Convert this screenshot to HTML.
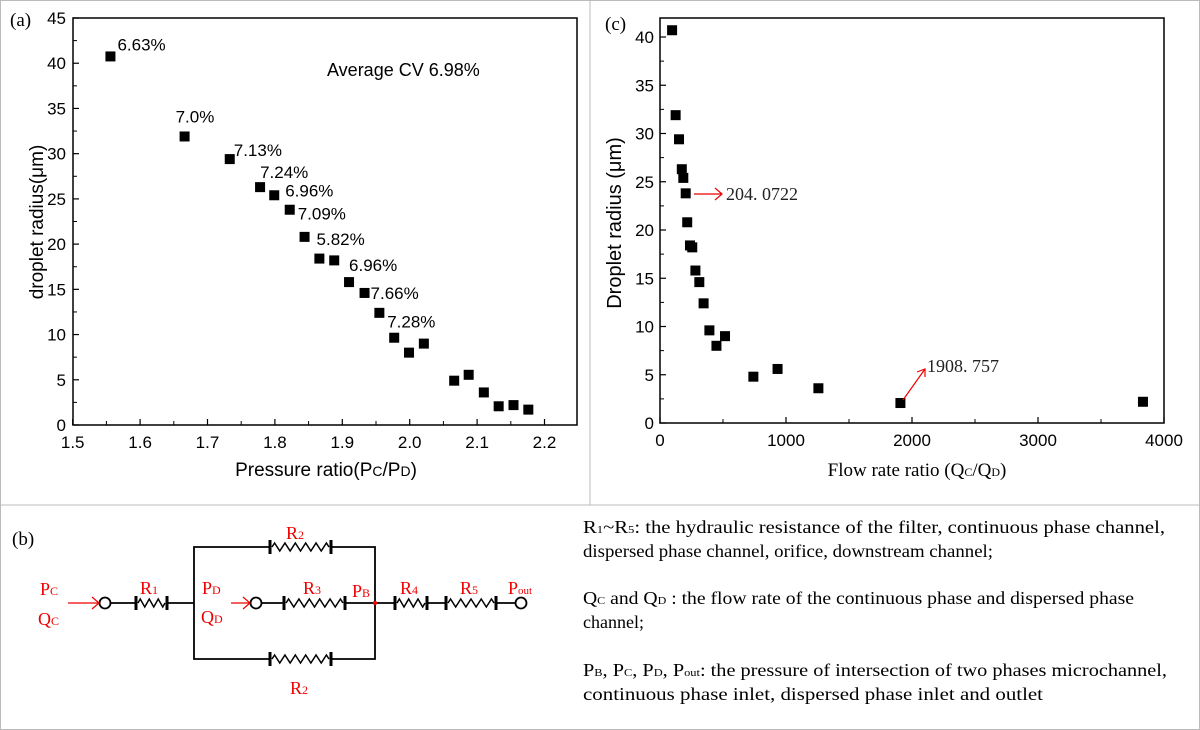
<!DOCTYPE html>
<html><head><meta charset="utf-8">
<style>
html,body{margin:0;padding:0;background:#fff;}
svg{display:block;}
.sans{font-family:"Liberation Sans",sans-serif;}
.serif{font-family:"Liberation Serif",serif;}
</style></head>
<body>
<svg id="fig" width="1200" height="730" viewBox="0 0 1200 730" xmlns="http://www.w3.org/2000/svg">
<rect x="0.5" y="0.5" width="1199" height="729" fill="#fff" stroke="#bbb"/>
<line x1="590" y1="0" x2="590" y2="505" stroke="#bbb"/>
<line x1="0" y1="505" x2="1200" y2="505" stroke="#bbb"/>

<!-- Panel a -->
<g id="pa">
<text x="10" y="26" class="serif" font-size="19">(a)</text>
<rect x="73" y="18" width="504" height="407" fill="none" stroke="#000" stroke-width="1.5"/>
<g id="pa-ticks"></g>
<g id="pa-points"></g>
<g id="pa-cv"></g>
<text x="327" y="76" class="sans" font-size="18">Average CV 6.98%</text>
<text x="326" y="476" text-anchor="middle" class="sans" font-size="19">Pressure ratio(P<tspan font-size="14">C</tspan>/P<tspan font-size="14">D</tspan>)</text>
<text transform="translate(43,222) rotate(-90)" text-anchor="middle" class="sans" font-size="19">droplet radius(μm)</text>
</g>

<!-- Panel c -->
<g id="pc">
<text x="605" y="30" class="serif" font-size="19">(c)</text>
<rect x="660" y="18" width="504" height="405" fill="none" stroke="#000" stroke-width="1.5"/>
<g id="pc-ticks"></g>
<g id="pc-points"></g>
<g>
<line x1="694" y1="194" x2="722" y2="194" stroke="#e00" stroke-width="1.2"/>
<polyline points="715,188 722,194 715,200" fill="none" stroke="#e00" stroke-width="1.2"/>
<text x="726" y="200" class="serif" font-size="18" fill="#222">204. 0722</text>
</g>
<g>
<line x1="903" y1="400" x2="925" y2="369" stroke="#e00" stroke-width="1.2"/>
<polyline points="917,372 925,369 925,377" fill="none" stroke="#e00" stroke-width="1.2"/>
<text x="927" y="372" class="serif" font-size="18" fill="#222">1908. 757</text>
</g>
<text x="917" y="476" text-anchor="middle" class="serif" font-size="19">Flow rate ratio (Q<tspan font-size="12">C</tspan>/Q<tspan font-size="12">D</tspan>)</text>
<text transform="translate(621,223) rotate(-90)" text-anchor="middle" class="sans" font-size="20">Droplet radius (μm)</text>
</g>

<!-- Panel b -->
<g id="pb" stroke="#000" stroke-width="1.8" fill="none">
<text x="12" y="545" class="serif" font-size="19" fill="#000" stroke="none">(b)</text>
<polyline points="136,603 105,603"/>
<line x1="167" y1="603" x2="194" y2="603"/>
<polyline points="270,547 194,547 194,659 270,659"/>
<polyline points="331,547 375,547 375,659 331,659"/>
<line x1="261" y1="603" x2="284" y2="603"/>
<line x1="345" y1="603" x2="395" y2="603"/>
<line x1="427" y1="603" x2="446" y2="603"/>
<line x1="496" y1="603" x2="516" y2="603"/>
<g id="resistors"></g>
<circle cx="105" cy="603" r="5.5" fill="#fff"/>
<circle cx="256" cy="603" r="5.5" fill="#fff"/>
<circle cx="521" cy="603" r="5.5" fill="#fff"/>
<circle cx="375" cy="603" r="2.2" fill="#e00" stroke="none"/>
<g stroke="#e00" stroke-width="1.2">
<line x1="68" y1="603" x2="99" y2="603"/><polyline points="92,597 99,603 92,609"/>
<line x1="231" y1="603" x2="250" y2="603"/><polyline points="243,597 250,603 243,609"/>
</g>
<g class="serif" fill="#e00" stroke="none" font-size="18">
<text x="40" y="595">P<tspan font-size="12">C</tspan></text>
<text x="38" y="625">Q<tspan font-size="12">C</tspan></text>
<text x="140" y="594">R<tspan font-size="12">1</tspan></text>
<text x="202" y="594">P<tspan font-size="12">D</tspan></text>
<text x="201" y="623">Q<tspan font-size="12">D</tspan></text>
<text x="303" y="594">R<tspan font-size="12">3</tspan></text>
<text x="352" y="597">P<tspan font-size="12">B</tspan></text>
<text x="400" y="594">R<tspan font-size="12">4</tspan></text>
<text x="460" y="594">R<tspan font-size="12">5</tspan></text>
<text x="508" y="594">P<tspan font-size="11">out</tspan></text>
<text x="286" y="539">R<tspan font-size="12">2</tspan></text>
<text x="290" y="694">R<tspan font-size="12">2</tspan></text>
</g>
</g>

<!-- Legend text -->
<g class="serif" font-size="18" fill="#000">
<text x="583" y="533" textLength="582" lengthAdjust="spacingAndGlyphs">R<tspan font-size="11">1</tspan>~R<tspan font-size="11">5</tspan>: the hydraulic resistance of the filter, continuous phase channel,</text>
<text x="583" y="557" textLength="410" lengthAdjust="spacingAndGlyphs">dispersed phase channel, orifice, downstream channel;</text>
<text x="583" y="604" textLength="551" lengthAdjust="spacingAndGlyphs">Q<tspan font-size="11">C</tspan> and Q<tspan font-size="11">D</tspan> : the flow rate of the continuous phase and dispersed phase</text>
<text x="583" y="628">channel;</text>
<text x="583" y="676" textLength="584" lengthAdjust="spacingAndGlyphs">P<tspan font-size="11">B</tspan>, P<tspan font-size="11">C</tspan>, P<tspan font-size="11">D</tspan>, P<tspan font-size="11">out</tspan>:  the pressure of intersection of two phases microchannel,</text>
<text x="583" y="700" textLength="460" lengthAdjust="spacingAndGlyphs">continuous phase inlet, dispersed phase inlet and outlet</text>
</g>
</svg>

<script>
// Panel (a) data
const pressureRatio = [1.556,1.666,1.733,1.778,1.799,1.822,1.844,1.866,1.888,1.910,1.933,1.955,1.977,1.999,2.021,2.066,2.0875,2.110,2.132,2.154,2.176];
const radiusA = [40.75,31.9,29.4,26.3,25.4,23.8,20.8,18.4,18.2,15.8,14.6,12.4,9.65,8.0,9.0,4.9,5.55,3.6,2.07,2.2,1.7];
const cvLabels = ["6.63%","7.0%","7.13%","7.24%","6.96%","7.09%","5.82%","6.96%","7.66%","7.28%"];
const cvIndex = [0,1,2,3,4,5,6,9,10,12];
const xTicksA = [1.5,1.6,1.7,1.8,1.9,2.0,2.1,2.2];
const xTickLabelsA = ["1.5","1.6","1.7","1.8","1.9","2.0","2.1","2.2"];
const yTicksA = [0,5,10,15,20,25,30,35,40,45];
// Panel (c) data
const flowRatio = [96,124,151,173,185,204,216,238,256,281,312,346,392,448,516,741,933,1257,1908,3833];
const radiusC = [40.7,31.9,29.4,26.3,25.4,23.8,20.8,18.4,18.2,15.8,14.6,12.4,9.6,8.0,9.0,4.8,5.6,3.6,2.07,2.2];
const xTicksC = [0,1000,2000,3000,4000];
const yTicksC = [0,5,10,15,20,25,30,35,40];

const NS = "http://www.w3.org/2000/svg";
function mk(tag, attrs, parent){const e=document.createElementNS(NS,tag);for(const k in attrs)e.setAttribute(k,attrs[k]);parent.appendChild(e);return e;}

const xA = v => 72.7 + (v-1.5)/0.1*67.4;
const yA = v => 425 - v*(407/45);
const xC = v => 660 + v/4000*504;
const yC = v => 423 - v*(386/40);

const ta = document.getElementById('pa-ticks');
xTicksA.forEach((t,i)=>{
  const x=xA(t);
  const l=mk('line',{x1:x,y1:425,x2:x,y2:419,stroke:'#000','stroke-width':1.2},ta);
  
  
  if(i<xTicksA.length-1){const m=mk('line',{x1:x+33.7,y1:425,x2:x+33.7,y2:421,stroke:'#000','stroke-width':1},ta);
  
  }
  const tx=mk('text',{x:x,y:448,'text-anchor':'middle','font-size':17,class:'sans'},ta);
  tx.textContent=xTickLabelsA[i];
  
  
});
yTicksA.forEach((t,i)=>{
  const y=yA(t);
  const l=mk('line',{x1:73,y1:y,x2:79,y2:y,stroke:'#000','stroke-width':1.2},ta);
  
  
  if(i<yTicksA.length-1){const m=mk('line',{x1:73,y1:yA(t+2.5),x2:77,y2:yA(t+2.5),stroke:'#000','stroke-width':1},ta);
  
  }
  const tx=mk('text',{x:66,y:y+6,'text-anchor':'end','font-size':17,class:'sans'},ta);
  tx.textContent=String(t);
  
  
});
const pa = document.getElementById('pa-points');
pressureRatio.forEach((p,i)=>{
  const r=mk('rect',{x:xA(p)-5,y:yA(radiusA[i])-5,width:10,height:10,fill:'#000'},pa);
  
  
});
const cvg = document.getElementById('pa-cv');
const cvOff = [[7,-12],[-9,-20],[4,-9],[0,-15],[11,-5],[8,4],[12,2],[0,-17],[6,0],[-7,-16]];
cvLabels.forEach((s,i)=>{
  const k=cvIndex[i];
  const t=mk('text',{x:xA(pressureRatio[k])+cvOff[i][0],y:yA(radiusA[k])+cvOff[i][1]+6,'font-size':17,class:'sans'},cvg);
  t.textContent=s;
  
  
});

const tc = document.getElementById('pc-ticks');
xTicksC.forEach((t,i)=>{
  const x=xC(t);
  const l=mk('line',{x1:x,y1:423,x2:x,y2:417,stroke:'#000','stroke-width':1.2},tc);
  
  
  if(i<xTicksC.length-1){const m=mk('line',{x1:xC(t+500),y1:423,x2:xC(t+500),y2:419,stroke:'#000','stroke-width':1},tc);
  
  }
  const tx=mk('text',{x:x,y:446,'text-anchor':'middle','font-size':17,class:'sans'},tc);
  tx.textContent=String(t);
  
  
});
yTicksC.forEach((t,i)=>{
  const y=yC(t);
  const l=mk('line',{x1:660,y1:y,x2:666,y2:y,stroke:'#000','stroke-width':1.2},tc);
  
  
  if(yC(t+2.5)>18){const m=mk('line',{x1:660,y1:yC(t+2.5),x2:664,y2:yC(t+2.5),stroke:'#000','stroke-width':1},tc);
  
  }
  const tx=mk('text',{x:654,y:y+6,'text-anchor':'end','font-size':17,class:'sans'},tc);
  tx.textContent=String(t);
  
  
});
const pcp = document.getElementById('pc-points');
flowRatio.forEach((q,i)=>{
  const r=mk('rect',{x:xC(q)-5,y:yC(radiusC[i])-5,width:10,height:10,fill:'#000'},pcp);
  
  
});

const rg = document.getElementById('resistors');
[[136,167,603,'r1'],[270,331,547,'r2-top'],[270,331,659,'r2-bottom'],[284,345,603,'r3'],[395,427,603,'r4'],[446,496,603,'r5']].forEach(r=>{
  const [a,b,y,n]=r;
  const g=mk('g',{},rg);
  
  
  mk('line',{x1:a,y1:y-7,x2:a,y2:y+7,'stroke-width':3},g);
  mk('line',{x1:b,y1:y-7,x2:b,y2:y+7,'stroke-width':3},g);
  const n2=Math.max(6,Math.round((b-a-6)/5));
  let pts=[a+2+','+y];
  const step=(b-a-4)/n2;
  for(let k=0;k<n2;k++){pts.push((a+2+step*(k+0.5))+','+(y+(k%2?4:-4)));}
  pts.push((b-2)+','+y);
  mk('polyline',{points:pts.join(' '),'stroke-width':1.5},g);
});
</script>
</body></html>
